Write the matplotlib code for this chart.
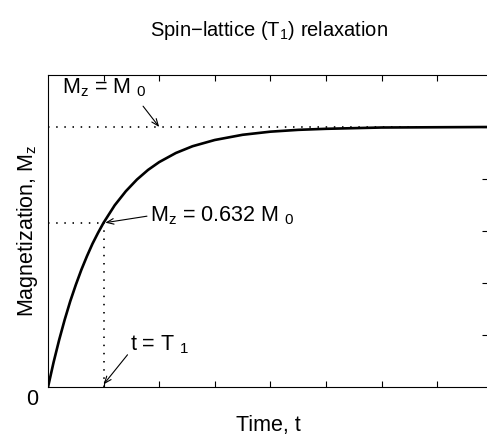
import matplotlib
matplotlib.use("Agg")
import matplotlib.pyplot as plt

plt.rcParams['font.family'] = ['Liberation Sans', 'DejaVu Sans']
plt.rcParams['mathtext.fontset'] = 'custom'
plt.rcParams['mathtext.rm'] = 'Liberation Sans'
plt.rcParams['mathtext.it'] = 'Liberation Sans:italic'

# recovery of Mz after the pulse (time in units of T1, Mz in units of M0)
t = [0, 0.1, 0.2, 0.3, 0.4, 0.5, 0.6, 0.7, 0.8, 0.9, 1.0, 1.2, 1.4, 1.6,
     1.8, 2.0, 2.3, 2.6, 3.0, 3.5, 4.0, 4.5, 5.0, 6.0, 7.0, 8.0]
mz = [0, 0.095, 0.181, 0.259, 0.330, 0.393, 0.451, 0.503, 0.551, 0.593,
      0.632, 0.699, 0.753, 0.798, 0.835, 0.865, 0.900, 0.926, 0.950, 0.970,
      0.982, 0.989, 0.993, 0.998, 0.999, 1.0]

T1 = 1.0
M0 = 1.0
M_T1 = 0.632

xticks = [1, 2, 3, 4, 5, 6, 7]
yticks = [0.2, 0.4, 0.6, 0.8, 1.0]

fs = 15.5

fig = plt.figure(figsize=(4.87, 4.38), dpi=100)
ax = fig.add_axes([0.0986, 0.1164, 0.904, 0.7124])

ax.plot(t, mz, color='black', lw=1.9, zorder=3)

# guide lines at M0 and at t = T1
dots = (0, (0.9, 4))
ax.axhline(M0, color='black', lw=1.2, linestyle=dots)
ax.plot([0, T1], [M_T1, M_T1], color='black', lw=1.2, linestyle=dots)
ax.plot([T1, T1], [0, M_T1], color='black', lw=1.2, linestyle=dots)

ax.set_xlim(0, 7.92)
ax.set_ylim(0, 1.2)
ax.set_xticks(xticks)
ax.set_yticks(yticks)
ax.tick_params(axis='x', which='both', direction='in', top=True, bottom=True,
               labelbottom=False, length=4, width=0.8)
ax.tick_params(axis='y', which='both', direction='in', left=False, right=True,
               labelleft=False, length=4, width=0.8)
for s in ax.spines.values():
    s.set_linewidth(0.8)

arrow = dict(arrowstyle='->, head_length=0.5, head_width=0.2', lw=0.8,
             color='black', shrinkA=0, shrinkB=0)

ax.annotate('', xy=(2.0, M0), xytext=(1.71, 1.08), arrowprops=arrow)
ax.text(0.25, 1.152, r'$\mathrm{M_z}$ = M $_\mathrm{0}$', fontsize=fs,
        va='center', ha='left')

ax.annotate('', xy=(1.03, M_T1), xytext=(1.78, 0.657), arrowprops=arrow)
ax.text(1.84, 0.66, r'$\mathrm{M_z}$ = 0.632 M $_\mathrm{0}$', fontsize=fs,
        va='center', ha='left')

ax.annotate('', xy=(T1, 0.01), xytext=(1.43, 0.124), arrowprops=arrow)
ax.text(1.48, 0.162, r't = T $_\mathrm{1}$', fontsize=fs, va='center', ha='left')

ax.text(-0.29, -0.048, '0', fontsize=fs, va='center', ha='center', clip_on=False)

ax.set_xlabel('Time, t', fontsize=fs, labelpad=20)
ax.set_ylabel(r'Magnetization, $\mathrm{M_z}$', fontsize=fs, labelpad=6)

fig.text(0.553, 1 - 30 / 438, r'Spin$-$lattice (T$_\mathrm{1}$) relaxation',
         fontsize=14.5, ha='center', va='center')

fig.savefig('out.png', dpi=100)
